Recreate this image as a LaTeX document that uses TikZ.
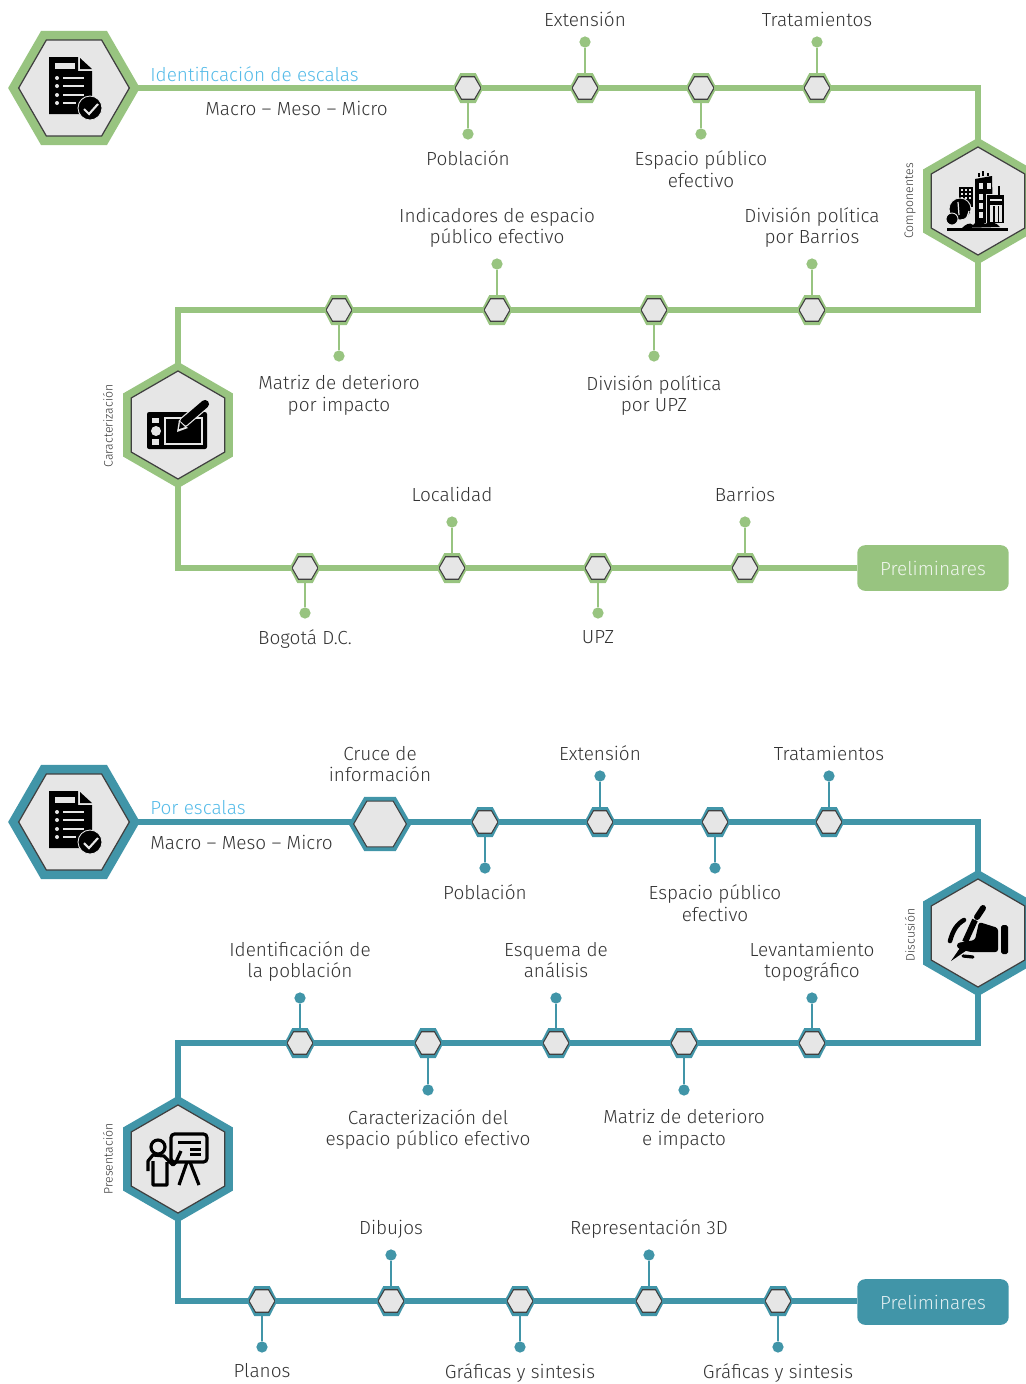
\documentclass[tikz,border=0pt]{standalone}
\usepackage{fontspec}
\setmainfont{Fira Sans Light}
\usetikzlibrary{shapes.geometric,positioning}
\definecolor{leaf}{HTML}{98C480}
\definecolor{lagoon}{HTML}{4195A8}
\definecolor{hexfill}{HTML}{E6E6E6}
\definecolor{hexedge}{HTML}{404040}
\definecolor{sky}{HTML}{55BBE8}
\definecolor{ink}{HTML}{333333}
\tikzset{
  pics/docicon/.style={code={
    \fill[black] (-25,-31) -- (4,-31) -- (4,-17) -- (18,-17) -- (18,26) -- (-25,26) -- cycle;
    \fill[black] (6,-30) -- (18,-19) -- (6,-19) -- cycle;
    \fill[hexfill] (-19,-25) rectangle (1,-19);
    \foreach \k/\e in {-10/10, -2/10, 7/10, 15/2}{
      \fill[hexfill] (-17,\k) circle (2);
      \draw[hexfill, line width=.9pt] (-11,\k) -- (\e,\k);
    }
    \fill[black, draw=hexfill, line width=.5pt] (16,20) circle (12);
    \draw[hexfill, line width=1.2pt] (10,21) -- (15,26) -- (24,16);
  }},
  pics/cityicon/.style={code={
    \fill[black] (-19,-14) rectangle (-5,6);
    \foreach \a in {-17.5,-13.5,-9.5}{\foreach \b in {-12.5,-8.5,-4.5}{
      \fill[hexfill] (\a,\b) rectangle +(2.6,2.6);
    }}
    \fill[black] (-3,-22) -- (14,-25) -- (15,22) -- (-3,22) -- cycle;
    \foreach \a/\b in {1/-18, 9/-18, 1/-7, 1/2, 1/11}{
      \fill[hexfill] (\a,\b) rectangle +(3.5,6);
    }
    \fill[hexfill] (8,-7) rectangle (27,22);
    \fill[black] (9,-6) rectangle (26,22);
    \fill[black] (20,-15) rectangle (22,-6);
    \fill[hexfill] (12,-2) rectangle (24,0);
    \fill[hexfill] (12,4) rectangle (24,21);
    \foreach \a in {15,19.5}{\fill[black] (\a,5) rectangle +(1.6,16);}
    \draw[black, line width=1.1pt] (1,-28) -- (1,-24) (5,-30) -- (5,-25) (10,-28) -- (10,-25);
    \fill[black, draw=hexfill, line width=.5pt] (-18,8) circle (11);
    \fill[black, draw=hexfill, line width=.5pt] (-26,18) circle (6);
    \draw[hexfill, line width=.7pt] (-20,1) -- (-19,14) (-9,10) .. controls (-11,18) and (-14,22) .. (-17,27);
    \fill[black] (-16,27) .. controls (-12,23) and (-8,21) .. (-5,24) .. controls (-1,19) and (4,19) .. (7,23)
      .. controls (12,20) and (18,21) .. (22,26) -- (-16,27) -- cycle;
    \fill[black] (-31,27) rectangle (30,30);
  }},
  pics/tableticon/.style={code={
    \fill[black, rounded corners=1.2pt] (-31,-13) rectangle (29,24);
    \fill[hexfill] (-26,-7) rectangle (-19,-2);
    \fill[hexfill] (-22,6) circle (5);
    \fill[hexfill] (-26,14) rectangle (-19,20);
    \draw[hexfill, line width=.7pt] (-13,-7) rectangle (24,19);
    \draw[hexfill, line width=6pt, line cap=round] (6,-3) -- (27,-21);
    \draw[black, line width=4.6pt, line cap=round] (6,-3) -- (27,-21);
    \fill[hexfill] (-1,7) -- (1,-5) -- (10,3) -- cycle;
    \fill[black] (1,4) -- (2,-3) -- (7,2) -- cycle;
  }},
  pics/handicon/.style={code={
    \fill[black, rounded corners=1pt] (23,-8) rectangle (30,21);
    \fill[black, rounded corners=1.5pt] (1,-11) -- (20,-5) -- (20,19) -- (-8,19) -- (-21,15)
      -- (-21,10) -- (-3,7) -- cycle;
    \draw[black, line width=3.4pt, line cap=round] (5,-25) -- (-1,-16);
    \draw[black, line width=3.4pt] (-3,-13) -- (-13,9);
    \fill[black] (-16,12) -- (-8,15) -- (-27,28) -- cycle;
    \draw[black, line width=2.6pt, line cap=round] (-14,-13) .. controls (-21,-9) and (-25,-3) .. (-28,8);
    \draw[black, line width=1.8pt, line cap=round] (-15,23) -- (-5,24);
  }},
  pics/boardicon/.style={code={
    \draw[black, line width=1.8pt, rounded corners=2pt] (-7,-25) rectangle (29,3);
    \draw[black, line width=1.7pt] (0,-17) -- (23,-17) (12,-10) -- (23,-10) (12,-5) -- (23,-5);
    \draw[black, line width=1.8pt] (9,3) -- (1,26) (12,3) -- (21,26);
    \draw[black, line width=1.8pt] (-20,-12) circle (7);
    \draw[black, line width=1.8pt, line join=round] (3,-8) -- (-2,3) -- (-5,6) -- (-14,-3)
      -- (-25,-4) -- (-30,2) -- (-30,12) (-25,2) -- (-25,26) -- (-11,26) -- (-11,3);
  }}
}
\begin{document}
\begin{tikzpicture}[x=0.02cm, y=-0.02cm, font=\fontsize{10.8}{12.2}\selectfont, text=ink]
      \tikzstyle{hexbase} = [regular polygon, regular polygon sides=6, inner sep=0pt, outer sep=0pt]
      \tikzstyle{bighex} = [hexbase, minimum size=75pt, outer sep=-1pt, fill=\tone]
      \tikzstyle{bigcore} = [hexbase, minimum size=63pt, fill=hexfill, draw=hexedge, line width=.7pt]
      \tikzstyle{tallhex} = [hexbase, regular polygon rotate=30, minimum size=72pt, outer sep=-1pt, fill=\tone]
      \tikzstyle{tallcore} = [hexbase, regular polygon rotate=30, minimum size=61.5pt, fill=hexfill, draw=hexedge, line width=.7pt]
      \tikzstyle{stophex} = [hexbase, minimum size=17.6pt, outer sep=-1pt, fill=\tone, transform shape, yscale=1.12]
      \tikzstyle{stopcore} = [hexbase, minimum size=14.8pt, fill=hexfill, draw=hexedge, line width=.6pt]
      \tikzstyle{midhex} = [hexbase, minimum size=35.7pt, outer sep=-1pt, fill=\tone]
      \tikzstyle{midcore} = [hexbase, minimum size=30pt, fill=hexfill, draw=hexedge, line width=.6pt]
      \tikzstyle{dot} = [circle, fill=\tone, minimum size=6.4pt, inner sep=0pt]
      \tikzstyle{trunk} = [draw=\tone, line width=2.9pt]
      \tikzstyle{twig} = [draw=\tone, line width=1.7pt]
      \tikzstyle{tag} = [align=center, inner sep=0pt,
                         execute at begin node={\rule{0pt}{8pt}}, execute at end node={\rule[-3pt]{0pt}{3pt}}]
      \tikzstyle{uptag} = [tag, above=5pt of #1]
      \tikzstyle{uptop} = [tag, above=2pt of #1]
      \tikzstyle{downtag} = [tag, below=6pt of #1]
      \tikzstyle{downfar} = [tag, below=7.5pt of #1]
      \tikzstyle{sidetag} = [rotate=90, font=\fontsize{7}{8}\selectfont]
      \tikzstyle{finish} = [rectangle, rounded corners=4.5pt, fill=\tone, text=white!85!\tone,
                            minimum width=86.2pt, minimum height=26pt, inner sep=0pt]

      \useasboundingbox (0,0) rectangle (1026,1384);

      % first block
      \def\tone{leaf}
      \node (hex-A) [bighex] at (74,88) {};
      \node (core-A) [bigcore] at (hex-A) {};
      \pic at (hex-A) {docicon};
      \node (hex-B) [tallhex] at (978,201) {};
      \node (core-B) [tallcore] at (hex-B) {};
      \pic at (hex-B) {cityicon};
      \node (hex-C) [tallhex] at (178,425) {};
      \node (core-C) [tallcore] at (hex-C) {};
      \pic at (hex-C) {tableticon};
      \node (side-B) [sidetag] at (910,201) {Componentes};
      \node (side-C) [sidetag] at (108,426) {Caracterización};
      \node (title-A) [anchor=west, text=sky, inner sep=0pt] at (150,74) {Identificación de escalas};
      \node (scale-A) [anchor=west, inner sep=0pt] at (205,108.5) {Macro – Meso – Micro};
      \node (end-A) [finish] at (933,568) {Preliminares};

      \foreach \name/\x/\y/\dy/\side/\txt in {
          a1/468/88/46/downtag/Población, a2/585/88/-46/uptop/Extensión,
          a3/701/88/46/downtag/{Espacio público\\efectivo}, a4/817/88/-46/uptop/Tratamientos,
          b1/812/310/-46/uptag/{División política\\por Barrios}, b2/654/310/46/downfar/{División política\\por UPZ},
          b3/497/310/-46/uptag/{Indicadores de espacio\\público efectivo}, b4/339/310/46/downfar/{Matriz de deterioro\\por impacto},
          c1/305/568/45/downtag/Bogotá D.C., c2/452/568/-46/uptag/Localidad,
          c3/598/568/45/downtag/UPZ, c4/745/568/-46/uptag/Barrios}
      {
        \node (\name) [stophex] at (\x,\y) {};
        \node (\name-core) [stopcore] at (\name) {};
        \node (\name-dot) [dot] at (\x,{\y+\dy}) {};
        \node (\name-tag) [\side=\name-dot] {\txt};
        \path[twig] (\name) -- (\name-dot);
      }
      \path[trunk] (hex-A) -- (a1) -- (a2) -- (a3) -- (a4) -| (hex-B);
      \path[trunk] (hex-B) |- (b1) -- (b2) -- (b3) -- (b4) -| (hex-C);
      \path[trunk] (hex-C) |- (c1) -- (c2) -- (c3) -- (c4) -- (end-A);

      % second block
      \def\tone{lagoon}
      \node (hex-D) [bighex] at (74,822) {};
      \node (core-D) [bigcore] at (hex-D) {};
      \pic at (hex-D) {docicon};
      \node (hex-E) [tallhex] at (978,933) {};
      \node (core-E) [tallcore] at (hex-E) {};
      \pic at (hex-E) {handicon};
      \node (hex-F) [tallhex] at (178,1159) {};
      \node (core-F) [tallcore] at (hex-F) {};
      \pic at (hex-F) {boardicon};
      \node (side-E) [sidetag] at (910,935) {Discusión};
      \node (side-F) [sidetag] at (108,1159) {Presentación};
      \node (title-D) [anchor=west, text=sky, inner sep=0pt] at (150,808) {Por escalas};
      \node (scale-D) [anchor=west, inner sep=0pt] at (150,842.5) {Macro – Meso – Micro};
      \node (end-D) [finish] at (933,1302) {Preliminares};
      \coordinate (cross-in) at (380,822);
      \node (cross-tag) [tag] at (380,766.5) {Cruce de\\información};

      \foreach \name/\x/\y/\dy/\side/\txt in {
          d1/485/822/46/downtag/Población, d2/600/822/-46/uptop/Extensión,
          d3/715/822/46/downtag/{Espacio público\\efectivo}, d4/829/822/-46/uptop/Tratamientos,
          e1/812/1043/-45/uptag/{Levantamiento\\topográfico}, e2/684/1043/47/downfar/{Matriz de deterioro\\e impacto},
          e3/556/1043/-45/uptag/{Esquema de\\análisis}, e4/428/1043/47/downfar/{Caracterización del\\espacio público efectivo},
          e5/300/1043/-45/uptag/{Identificación de\\la población},
          f1/262/1301/46/downtag/Planos, f2/391/1301/-46/uptag/Dibujos,
          f3/520/1301/46/downtag/Gráficas y sintesis, f4/649/1301/-46/uptag/Representación 3D,
          f5/778/1301/46/downtag/Gráficas y sintesis}
      {
        \node (\name) [stophex] at (\x,\y) {};
        \node (\name-core) [stopcore] at (\name) {};
        \node (\name-dot) [dot] at (\x,{\y+\dy}) {};
        \node (\name-tag) [\side=\name-dot] {\txt};
        \path[twig] (\name) -- (\name-dot);
      }
      \path[trunk] (hex-D) -- (cross-in) -- (d1) -- (d2) -- (d3) -- (d4) -| (hex-E);
      \path[trunk] (hex-E) |- (e1) -- (e2) -- (e3) -- (e4) -- (e5) -| (hex-F);
      \path[trunk] (hex-F) |- (f1) -- (f2) -- (f3) -- (f4) -- (f5) -- (f5 -| end-D.west);
      \node (cross) [midhex] at (380,824) {};
      \node (cross-core) [midcore] at (cross) {};
\end{tikzpicture}
\end{document}
